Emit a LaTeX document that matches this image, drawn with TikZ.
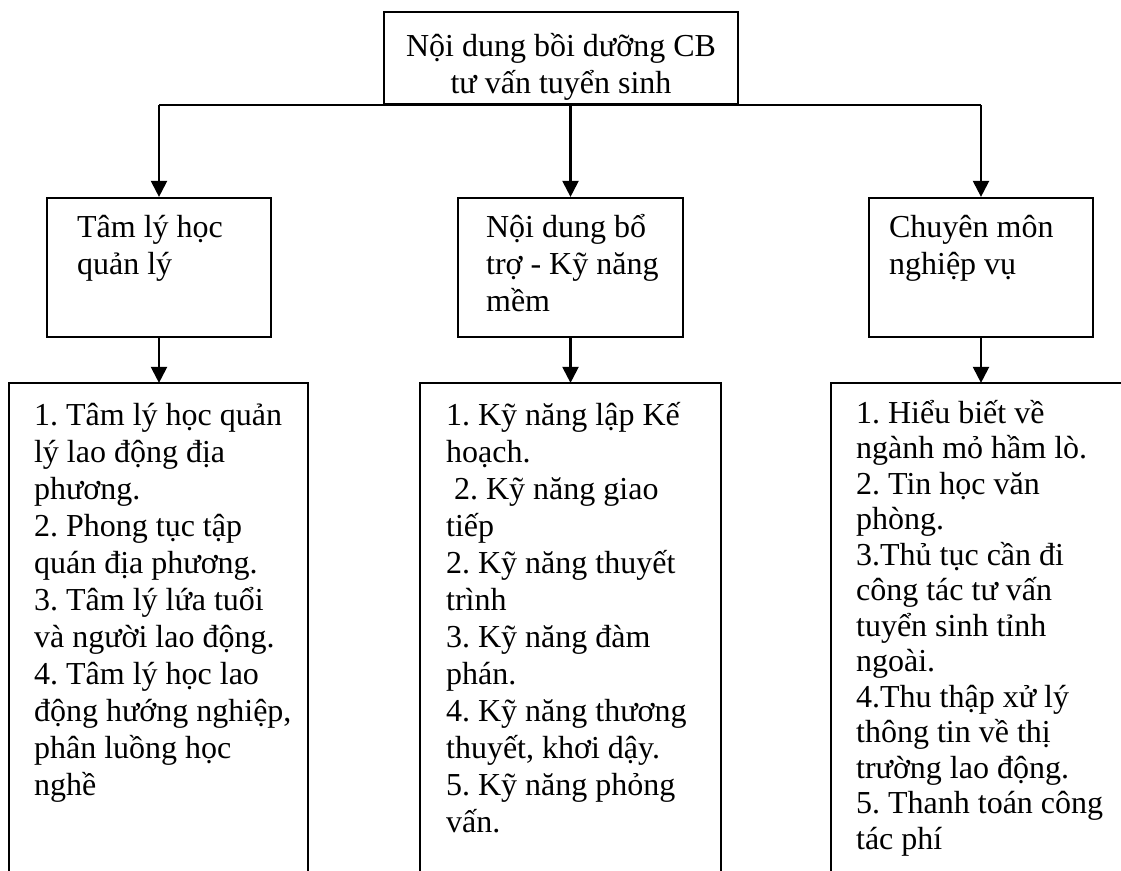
\documentclass[tikz,border=0pt]{standalone}
\usepackage{fontspec}
\setmainfont{Liberation Serif}
\usetikzlibrary{arrows.meta}
\newcommand\mylines[2]{\parbox[t]{#1}{\frenchspacing\raggedright\lineskiplimit=-\maxdimen\lineskip=0pt #2}}
\newcommand\myclines[2]{\parbox[t]{#1}{\frenchspacing\centering\lineskiplimit=-\maxdimen\lineskip=0pt #2}}
\begin{document}
\begin{tikzpicture}[x=1pt,y=-1pt,line width=2.2pt,
  box/.style={draw,rectangle,inner sep=0pt},
  hidden/.style={rectangle,inner sep=0pt},
  txt/.style={anchor=base west,inner sep=0pt,font=\fontsize{32}{37}\selectfont},
  txtb/.style={anchor=base west,inner sep=0pt,font=\fontsize{32}{35.5}\selectfont},
  arr/.style={-{Triangle[length=16pt,width=16pt]}}]
\useasboundingbox (0,0) rectangle (1121,870);
% top
\node[box,minimum width=354pt,minimum height=92pt] (top) at (561,58) {};
\node[txt,anchor=base] (toptxt) at (561,56) {\myclines{350pt}{Nội dung bồi dưỡng CB\\tư vấn tuyển sinh}};
% middle row
\node[box,minimum width=224pt,minimum height=139pt] (m1) at (159,267.5) {};
\node[box,minimum width=225pt,minimum height=139pt] (m2) at (570.5,267.5) {};
\node[box,minimum width=224pt,minimum height=139pt] (m3) at (981,267.5) {};
\node[txt] (m1t) at (76,237) {\mylines{200pt}{Tâm lý học\\quản lý}};
\node[txt] (m2t) at (485,237) {\mylines{200pt}{Nội dung bổ\\trợ - Kỹ năng\\mềm}};
\node[txt] (m3t) at (888,237) {\mylines{200pt}{Chuyên môn\\nghiệp vụ}};
% bottom row (open at the bottom)
\node[hidden,minimum width=297pt,minimum height=496pt] (b1) at (158.5,632) {};
\node[hidden,minimum width=299pt,minimum height=496pt] (b2) at (570.5,632) {};
\node[hidden,minimum width=298pt,minimum height=496pt] (b3) at (981,632) {};
\foreach \b in {b1,b2,b3}
  \draw (\b.south west) -- (\b.north west) -- (\b.north east) -- (\b.south east);
\node[txt] (b1t) at (33,425) {\mylines{280pt}{1. Tâm lý học quản\\lý lao động địa\\phương.\\2. Phong tục tập\\quán địa phương.\\3. Tâm lý lứa tuổi\\và người lao động.\\4. Tâm lý học lao\\động hướng nghiệp,\\phân luồng học\\nghề}};
\node[txt] (b2t) at (445,425) {\mylines{280pt}{1. Kỹ năng lập Kế\\hoạch.\\\hspace*{8pt}2. Kỹ năng giao\\tiếp\\2. Kỹ năng thuyết\\trình\\3. Kỹ năng đàm\\phán.\\4. Kỹ năng thương\\thuyết, khơi dậy.\\5. Kỹ năng phỏng\\vấn.}};
\node[txtb] (b3t) at (855,423) {\mylines{280pt}{1. Hiểu biết về\\ngành mỏ hầm lò.\\2. Tin học văn\\phòng.\\3.Thủ tục cần đi\\công tác tư vấn\\tuyển sinh tỉnh\\ngoài.\\4.Thu thập xử lý\\thông tin về thị\\trường lao động.\\5. Thanh toán công\\tác phí}};
% connectors
\coordinate (j1) at (m1.north |- top.south);
\coordinate (j2) at (m2.north |- top.south);
\coordinate (j3) at (m3.north |- top.south);
\draw (j1) -- (j3);
\draw[arr] (j1) -- (m1.north);
\draw[arr] (j2) -- (m2.north);
\draw[arr] (j3) -- (m3.north);
\draw[arr] (m1.south) -- (m1.south |- b1.north);
\draw[arr] (m2.south) -- (m2.south |- b2.north);
\draw[arr] (m3.south) -- (m3.south |- b3.north);
\end{tikzpicture}
\end{document}
